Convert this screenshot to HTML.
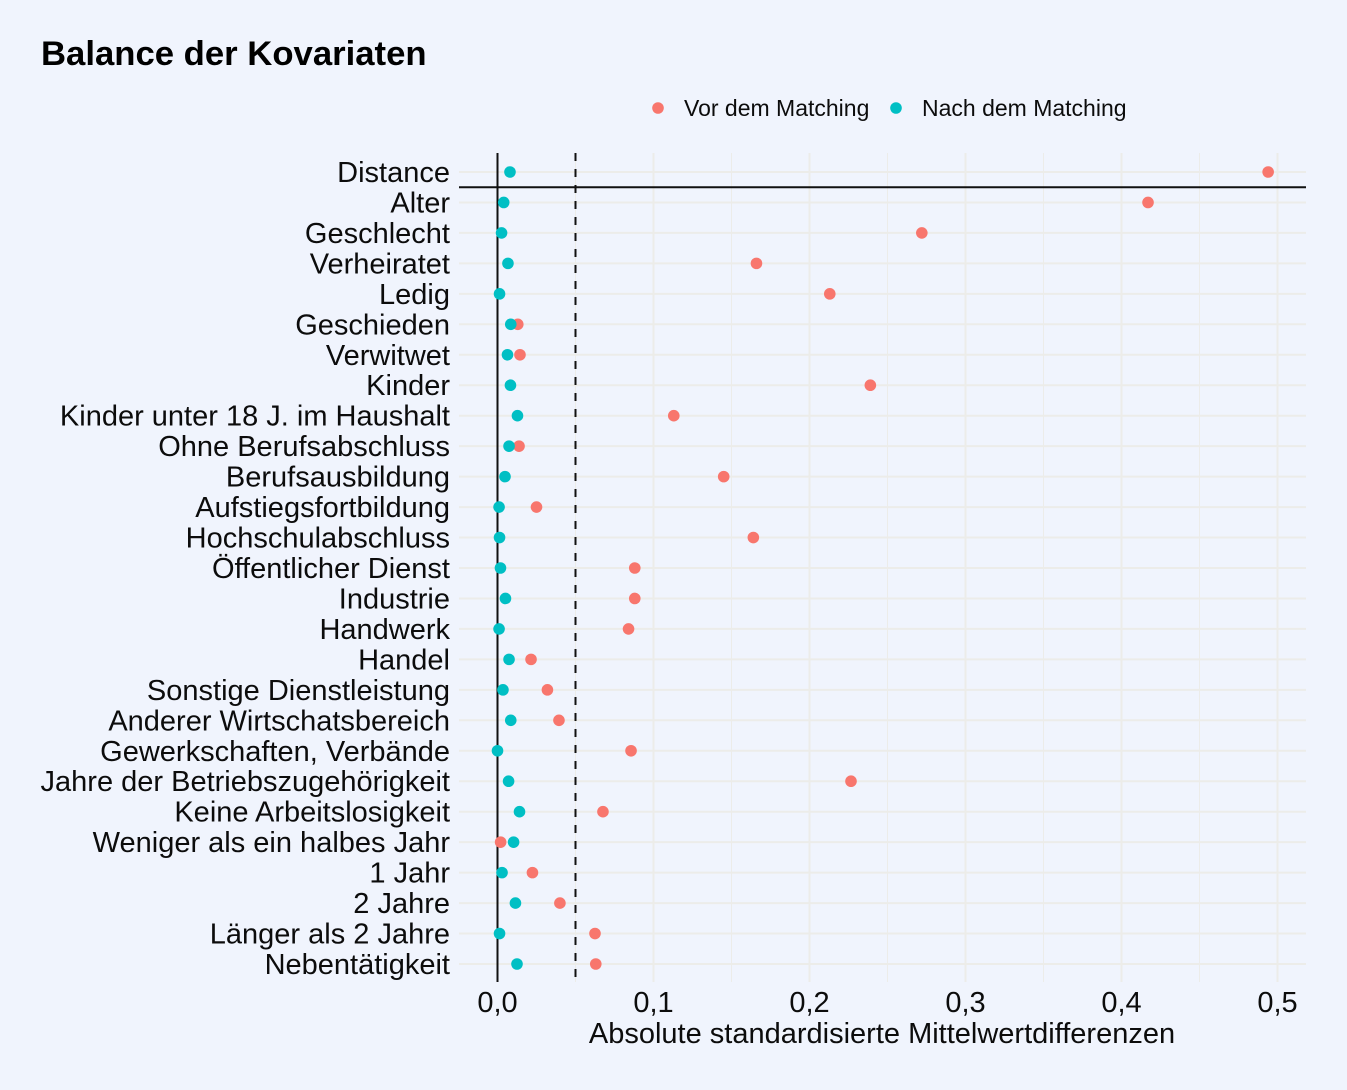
<!DOCTYPE html>
<html lang="de">
<head>
<meta charset="utf-8">
<title>Balance der Kovariaten</title>
<style>
html,body{margin:0;padding:0;background:#f0f4fd;}
svg{display:block;}
text{font-family:"Liberation Sans",Arial,sans-serif;fill:#0c0c0c;}
#chart-title-text{fill:#000;}
</style>
</head>
<body>
<svg id="chart" xmlns="http://www.w3.org/2000/svg" width="1347" height="1090" viewBox="0 0 1347 1090">
<rect x="0" y="0" width="1347" height="1090" fill="#f0f4fd"/>
<text id="chart-title-text" x="41" y="65" font-size="34.7" font-weight="bold">Balance der Kovariaten</text>
<g>
<circle cx="658" cy="108" r="5.8" fill="#f8766d"/>
<text x="684" y="116" font-size="23">Vor dem Matching</text>
<circle cx="896" cy="108" r="5.8" fill="#00bfc4"/>
<text x="922" y="116" font-size="23">Nach dem Matching</text>
</g>
<g id="grid"></g>
<g id="refs"></g>
<g id="points"></g>
<g id="ylabels"></g>
<g id="xlabels"></g>
<text x="882" y="1043" font-size="29" text-anchor="middle">Absolute standardisierte Mittelwertdifferenzen</text>
</svg>
<script>
const categories = ["Distance","Alter","Geschlecht","Verheiratet","Ledig","Geschieden","Verwitwet","Kinder","Kinder unter 18 J. im Haushalt","Ohne Berufsabschluss","Berufsausbildung","Aufstiegsfortbildung","Hochschulabschluss","Öffentlicher Dienst","Industrie","Handwerk","Handel","Sonstige Dienstleistung","Anderer Wirtschatsbereich","Gewerkschaften, Verbände","Jahre der Betriebszugehörigkeit","Keine Arbeitslosigkeit","Weniger als ein halbes Jahr","1 Jahr","2 Jahre","Länger als 2 Jahre","Nebentätigkeit"];
const vorMatching = [0.494,0.417,0.272,0.166,0.213,0.013,0.0144,0.239,0.113,0.0138,0.145,0.025,0.164,0.088,0.088,0.084,0.0215,0.032,0.0394,0.0856,0.2266,0.0676,0.002,0.0224,0.04,0.0625,0.063];
const nachMatching = [0.008,0.004,0.0026,0.0067,0.0013,0.0085,0.0064,0.0083,0.0128,0.0074,0.0048,0.001,0.0013,0.0019,0.0051,0.001,0.0074,0.0035,0.0085,0,0.0071,0.0141,0.0103,0.0029,0.0115,0.0013,0.0125];
const xMajorTicks = [0,0.1,0.2,0.3,0.4,0.5];
const xMinorTicks = [0.05,0.15,0.25,0.35,0.45];
const xTickLabels = ["0,0","0,1","0,2","0,3","0,4","0,5"];
const thresholdValue = 0.05;
const zeroValue = 0;

const NS = "http://www.w3.org/2000/svg";
const panel = {left:459, right:1306, top:153, bottom:982};
function xScale(v){ return 497.5 + v * 1560; }
function yScale(i){ return 172 + i * (964 - 172) / (categories.length - 1); }
function make(tag, attrs, parent){
  const el = document.createElementNS(NS, tag);
  for (const k in attrs) el.setAttribute(k, attrs[k]);
  parent.appendChild(el);
  return el;
}
const grid = document.getElementById('grid');
const refs = document.getElementById('refs');
const pts = document.getElementById('points');
const ylabels = document.getElementById('ylabels');
const xlabels = document.getElementById('xlabels');
const gridColor = "#ecece9";

xMinorTicks.forEach(function(t){
  const el = make('line', {x1:xScale(t), x2:xScale(t), y1:panel.top, y2:panel.bottom, stroke:gridColor, 'stroke-width':1}, grid);
  
  
});
xMajorTicks.forEach(function(t){
  const el = make('line', {x1:xScale(t), x2:xScale(t), y1:panel.top, y2:panel.bottom, stroke:gridColor, 'stroke-width':2}, grid);
  
  
});
categories.forEach(function(c, i){
  const el = make('line', {x1:panel.left, x2:panel.right, y1:yScale(i), y2:yScale(i), stroke:gridColor, 'stroke-width':2}, grid);
  
  
});

const zeroLine = make('line', {x1:xScale(zeroValue), x2:xScale(zeroValue), y1:panel.top, y2:panel.bottom, stroke:"#111", 'stroke-width':2}, refs);


const threshold = make('line', {x1:xScale(thresholdValue), x2:xScale(thresholdValue), y1:panel.top, y2:panel.bottom, stroke:"#111", 'stroke-width':2, 'stroke-dasharray':'8 8'}, refs);


const sepY = (yScale(0) + yScale(1)) / 2;
const separator = make('line', {x1:panel.left, x2:panel.right, y1:sepY, y2:sepY, stroke:"#111", 'stroke-width':2}, refs);



vorMatching.forEach(function(v, i){
  const el = make('circle', {cx:xScale(v), cy:yScale(i), r:5.8, fill:"#f8766d"}, pts);
  
  
});
nachMatching.forEach(function(v, i){
  const el = make('circle', {cx:xScale(v), cy:yScale(i), r:5.8, fill:"#00bfc4"}, pts);
  
  
});

categories.forEach(function(c, i){
  const el = make('text', {x:450, y:yScale(i) + 10, 'font-size':29, 'text-anchor':'end'}, ylabels);
  
  
  el.textContent = c;
});
xMajorTicks.forEach(function(t, i){
  const el = make('text', {x:xScale(t), y:1012, 'font-size':29, 'text-anchor':'middle'}, xlabels);
  
  
  el.textContent = xTickLabels[i];
});
</script>
</body>
</html>
